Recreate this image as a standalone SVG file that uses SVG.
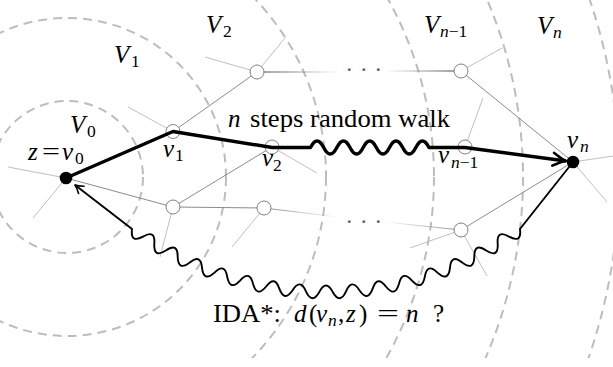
<svg xmlns="http://www.w3.org/2000/svg" width="613" height="367" viewBox="0 0 613 367">
<defs>
<style>
.ring{fill:none;stroke:#bdbdbd;stroke-width:2;stroke-dasharray:9 6}
.edge{stroke:#8c8c8c;stroke-width:1;fill:none}
.stub{stroke:#b8b8b8;stroke-width:0.9;fill:none}
.open{fill:#fff;stroke:#808080;stroke-width:1}
.dot{fill:#000}
text{font-family:"Liberation Serif","DejaVu Serif",serif;fill:#000}
.m{font-size:25px;font-style:italic}
.r{font-size:25px}
.si{font-size:17.5px;font-style:italic}
.sr{font-size:17.5px}
.dots{font-size:24px;fill:#555;letter-spacing:6.5px}
.walk{fill:none;stroke:#000;stroke-width:3.4;stroke-linejoin:round}
.back{fill:none;stroke:#000;stroke-width:1.9;stroke-linejoin:round}
</style>
<clipPath id="clip"><rect x="0" y="0" width="613" height="358"/></clipPath>
<linearGradient id="fadeOutTop" gradientUnits="userSpaceOnUse" x1="257" y1="0" x2="338" y2="0"><stop offset="0" stop-color="#7a7a7a"/><stop offset="1" stop-color="#7a7a7a" stop-opacity="0"/></linearGradient>
<linearGradient id="fadeInTop" gradientUnits="userSpaceOnUse" x1="385" y1="0" x2="461" y2="0"><stop offset="0" stop-color="#7a7a7a" stop-opacity="0"/><stop offset="1" stop-color="#7a7a7a"/></linearGradient>
<linearGradient id="fadeOutBot" gradientUnits="userSpaceOnUse" x1="264" y1="0" x2="338" y2="0"><stop offset="0" stop-color="#8c8c8c"/><stop offset="1" stop-color="#8c8c8c" stop-opacity="0"/></linearGradient>
<linearGradient id="fadeInBot" gradientUnits="userSpaceOnUse" x1="385" y1="0" x2="461" y2="0"><stop offset="0" stop-color="#8c8c8c" stop-opacity="0"/><stop offset="1" stop-color="#8c8c8c"/></linearGradient>
<marker id="arrowThick" markerUnits="userSpaceOnUse" viewBox="-16 -10 18 20" refX="0" refY="0" markerWidth="18" markerHeight="20" orient="auto" overflow="visible">
<path d="M -13 -6.5 Q -5 -1.5 0 0 Q -5 1.5 -13 6.5" fill="none" stroke="#000" stroke-width="2.5" stroke-linecap="round" stroke-linejoin="round"/>
</marker>
<marker id="arrowThin" markerUnits="userSpaceOnUse" viewBox="-12 -8 14 16" refX="0" refY="0" markerWidth="14" markerHeight="16" orient="auto-start-reverse" overflow="visible">
<path d="M -8 -4.5 Q -3 -1 0 0 Q -3 1 -8 4.5" fill="none" stroke="#000" stroke-width="1.6" stroke-linecap="round" stroke-linejoin="round"/>
</marker>
</defs>

<g id="levels" clip-path="url(#clip)">
<circle class="ring" cx="67" cy="177" r="76"/>
<circle class="ring" cx="67" cy="177" r="159"/>
<circle class="ring" cx="67" cy="177" r="259"/>
<circle class="ring" cx="67" cy="177" r="367"/>
<circle class="ring" cx="67" cy="177" r="456"/>
<circle class="ring" cx="67" cy="177" r="552"/>
</g>

<g id="level-labels">
<text class="m" x="70" y="133">V</text><text class="sr" x="87" y="137">0</text>
<text class="m" x="114" y="63">V</text><text class="sr" x="131" y="67">1</text>
<text class="m" x="206" y="33">V</text><text class="sr" x="223" y="37">2</text>
<text class="m" x="424" y="33">V</text><text class="sr" x="440" y="37"><tspan font-style="italic">n</tspan>−1</text>
<text class="m" x="537" y="34">V</text><text class="si" x="553" y="38">n</text>
</g>

<g id="connectors">
<g id="graph-edges">
<line class="edge" x1="66" y1="178" x2="173" y2="207"/>
<line class="edge" x1="173" y1="131.5" x2="257" y2="72"/>
<line class="edge" x1="272" y1="147" x2="173" y2="207"/>
<line class="edge" x1="173" y1="207" x2="264" y2="208" stroke-width="1.3"/>
<line class="edge" x1="461" y1="71" x2="573" y2="162"/>
<line class="edge" x1="461" y1="230" x2="573" y2="162"/>
<line x1="257" y1="72" x2="338" y2="72" stroke="url(#fadeOutTop)" stroke-width="1.3"/>
<line x1="385" y1="71" x2="461" y2="71" stroke="url(#fadeInTop)" stroke-width="1.3"/>
<line x1="264" y1="208" x2="338" y2="217" stroke="url(#fadeOutBot)" stroke-width="1"/>
<line x1="385" y1="222" x2="461" y2="230" stroke="url(#fadeInBot)" stroke-width="1"/>
</g>
<g id="stubs">
<line class="stub" x1="66" y1="178" x2="8" y2="167"/>
<line class="stub" x1="66" y1="178" x2="33" y2="218"/>
<line class="stub" x1="173" y1="131.5" x2="128" y2="107"/>
<line class="stub" x1="257" y1="72" x2="285" y2="38"/>
<line class="stub" x1="257" y1="72" x2="205" y2="57"/>
<line class="stub" x1="461" y1="71" x2="502" y2="48"/>
<line class="stub" x1="272" y1="147" x2="317" y2="173"/>
<line class="stub" x1="465" y1="147" x2="483" y2="98"/>
<line class="stub" x1="173" y1="207" x2="160" y2="257"/>
<line class="stub" x1="264" y1="208" x2="232" y2="247"/>
<line class="stub" x1="461" y1="230" x2="410" y2="248"/>
<line class="stub" x1="461" y1="230" x2="487" y2="276"/>
<line class="stub" x1="573" y1="162" x2="613" y2="156"/>
<line class="stub" x1="573" y1="162" x2="607" y2="202"/>
</g>
</g>

<g id="ellipsis">
<text class="dots" x="345.3" y="77">···</text>
<text class="dots" x="345.3" y="229.3">···</text>
</g>

<g id="node-t"><circle class="open" cx="257" cy="72" r="7"/></g>
<g id="node-t2"><circle class="open" cx="461" cy="71" r="7"/></g>
<g id="node-a"><circle class="open" cx="173" cy="207" r="7"/></g>
<g id="node-b"><circle class="open" cx="264" cy="208" r="7"/></g>
<g id="node-c"><circle class="open" cx="461" cy="230" r="7"/></g>
<g id="node-v1"><circle class="open" cx="173" cy="131.5" r="7"/></g>
<g id="node-v2"><circle class="open" cx="272" cy="147" r="7"/></g>
<g id="node-vn1"><circle class="open" cx="465" cy="147" r="7"/></g>

<g id="walks">
<path class="walk" marker-end="url(#arrowThick)" d="M 66 178 L 173 131.5 L 272 147.5 L 310.5 147.5 Q 317.08 134.5 323.67 147.5 T 336.83 147.5 T 350 147.5 T 363.17 147.5 T 376.33 147.5 T 389.5 147.5 T 402.67 147.5 T 415.83 147.5 T 429 147.5 L 465 147.5 L 566 161"/>
<path class="back" marker-start="url(#arrowThin)" d="M 75 185 L 132.03 228.98 Q 130.05 243.52 143.01 236.62 Q 155.60 229.31 154.29 243.81 Q 153.50 258.47 165.85 250.53 Q 177.81 242.23 177.67 256.79 Q 178.07 271.46 189.74 262.56 Q 200.99 253.31 202.04 267.83 Q 203.62 282.43 214.53 272.61 Q 224.99 262.48 227.21 276.87 Q 229.97 291.29 240.05 280.61 Q 249.66 269.67 253.03 283.83 Q 256.95 297.98 266.14 286.52 Q 274.82 274.85 279.34 288.69 Q 284.39 302.47 292.61 290.31 Q 300.33 277.96 305.95 291.39 Q 312.10 304.72 319.31 291.93 Q 326 279 332.69 291.93 Q 339.90 304.72 346.05 291.39 Q 351.67 277.96 359.39 290.31 Q 367.61 302.47 372.66 288.69 Q 377.18 274.85 385.86 286.52 Q 395.05 297.98 398.97 283.83 Q 402.34 269.67 411.95 280.61 Q 422.03 291.29 424.79 276.87 Q 427.01 262.48 437.47 272.61 Q 448.38 282.43 449.96 267.83 Q 451.01 253.31 462.26 262.56 Q 473.93 271.46 474.33 256.79 Q 474.19 242.23 486.15 250.53 Q 498.50 258.47 497.71 243.81 Q 496.40 229.31 508.99 236.62 Q 521.95 243.52 519.97 228.98 L 573 162"/>
</g>

<g id="node-z"><circle class="dot" cx="66" cy="178" r="6.3"/></g>
<g id="node-vn"><circle class="dot" cx="573" cy="162" r="6.3"/></g>

<g id="node-labels">
<text class="m" x="28" y="160">z</text><text class="r" x="42" y="160" textLength="18" lengthAdjust="spacingAndGlyphs">=</text><text class="m" x="62" y="160">v</text><text class="sr" x="75" y="164">0</text>
<text class="m" x="163" y="157">v</text><text class="sr" x="175" y="161">1</text>
<text class="m" x="262" y="166">v</text><text class="sr" x="273" y="171">2</text>
<text class="m" x="438" y="163">v</text><text class="sr" x="451" y="168"><tspan font-style="italic">n</tspan>−1</text>
<text class="m" x="567" y="148">v</text><text class="si" x="580" y="152">n</text>
</g>

<g id="captions">
<text class="m" x="228" y="127">n</text>
<text class="r" x="250" y="127" textLength="200" lengthAdjust="spacingAndGlyphs">steps random walk</text>
<text class="r" x="213" y="322" textLength="68" lengthAdjust="spacingAndGlyphs">IDA*:</text>
<text class="m" x="294" y="322">d</text>
<text class="r" x="309" y="322">(</text>
<text class="m" x="316" y="322">v</text>
<text class="si" x="328" y="326">n</text>
<text class="r" x="338" y="322">,</text>
<text class="m" x="346" y="322">z</text>
<text class="r" x="359" y="322">)</text>
<text class="r" x="377" y="322" textLength="22" lengthAdjust="spacingAndGlyphs">=</text>
<text class="m" x="406" y="322">n</text>
<text class="r" x="433" y="322">?</text>
</g>
</svg>
